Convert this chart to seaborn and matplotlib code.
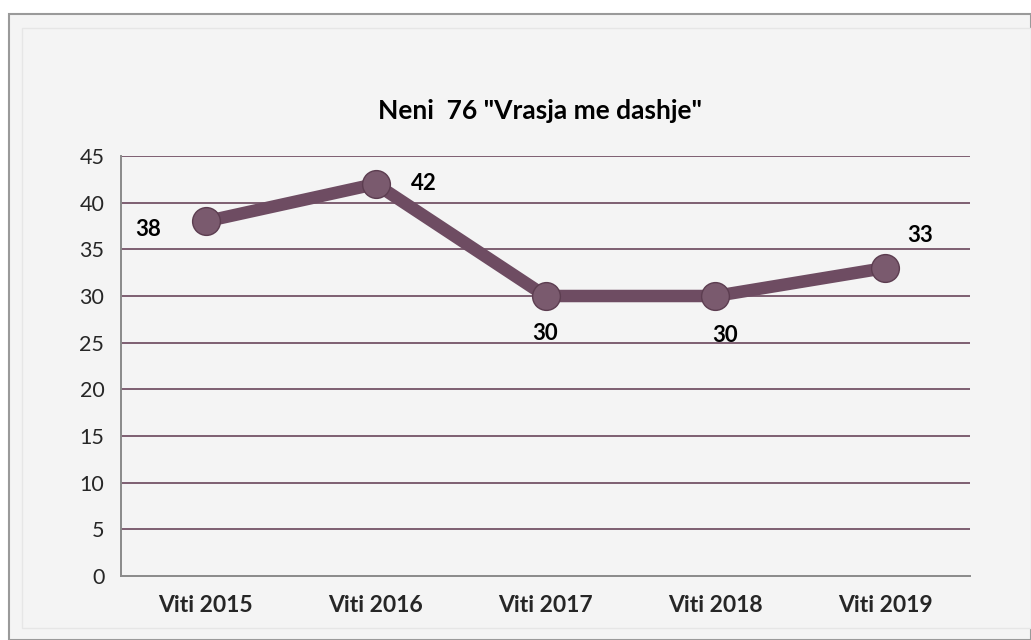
import matplotlib
matplotlib.use("Agg")
import matplotlib.pyplot as plt
from matplotlib.patches import Rectangle
import numpy as np
import pandas as pd
import seaborn as sns

# data
years = ["Viti 2015", "Viti 2016", "Viti 2017", "Viti 2018", "Viti 2019"]
counts = [38, 42, 30, 30, 33]
title = 'Neni  76 "Vrasja me dashje"'

sns.set_style("white")
plt.rcParams['font.family'] = ['Lato', 'DejaVu Sans']

line_col = "#6e4c62"
grid_col = "#7d5e71"
axis_col = "#8a8a8a"

fig = plt.figure(figsize=(10.31, 6.4), dpi=100)
fig.patch.set_facecolor("white")

# outer chart frame with a light bevel
fig.patches.append(Rectangle((9 / 1031, 0), 1 - 9 / 1031, 1 - 14 / 640, transform=fig.transFigure,
                             facecolor="#f4f4f4", edgecolor="#9a9a9a", linewidth=1.5, zorder=-2))
fig.patches.append(Rectangle((22 / 1031, 12 / 640), 1 - 22 / 1031, 1 - 40 / 640, transform=fig.transFigure,
                             facecolor="#f4f4f4", edgecolor="#e6e6e6", linewidth=1.0, zorder=-1))

ax = fig.add_axes([121 / 1031, 64 / 640, 849 / 1031, 420 / 640])
ax.set_zorder(2)
ax.set_facecolor("none")

df = pd.DataFrame({"year": years, "count": counts})
df["pos"] = np.arange(len(years))

sns.lineplot(data=df, x="pos", y="count", ax=ax, color=line_col, linewidth=9,
             marker="o", markersize=20, markerfacecolor="#7a5a6e",
             markeredgecolor="#5c3d50", markeredgewidth=1.0, zorder=3)

ax.set_xlim(-0.5, len(years) - 0.5)
ax.set_ylim(0, 45)
ax.set_yticks(range(0, 46, 5))
ax.set_xticks(df["pos"])
ax.set_xticklabels(years, fontsize=16.5, fontweight="bold")
ax.set_xticks(np.arange(-0.5, len(years), 1.0), minor=True)
ax.tick_params(axis="x", which="major", length=0, pad=14)
ax.tick_params(axis="x", which="minor", length=6, width=1.2, color=axis_col, direction="out")
ax.tick_params(axis="y", length=6, width=1.2, color=axis_col, direction="out", labelsize=15.5, pad=6)
ax.set_xlabel("")
ax.set_ylabel("")

for y in range(5, 46, 5):
    ax.axhline(y, color=grid_col, linewidth=1.4, zorder=1)

for side in ["top", "right"]:
    ax.spines[side].set_visible(False)
for side in ["left", "bottom"]:
    ax.spines[side].set_color(axis_col)
    ax.spines[side].set_linewidth(1.4)

# data labels, placed like in the reference
offsets = [(-58, -8), (48, 0), (0, -38), (10, -40), (35, 33)]
for x, y, (dx, dy) in zip(df["pos"], df["count"], offsets):
    ax.annotate(str(y), (x, y), xytext=(dx, dy), textcoords="offset pixels",
                ha="center", va="center", fontsize=16, fontweight="bold", color="black")

fig.text(540 / 1031, 1 - 119 / 640, title, ha="center", va="baseline",
         fontsize=19, fontweight="bold", color="black")

fig.savefig("out.png", dpi=100)
